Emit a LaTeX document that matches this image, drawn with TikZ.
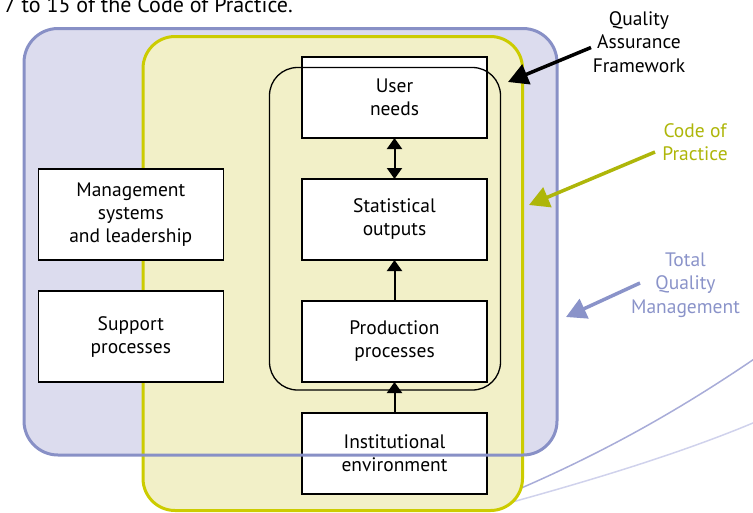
\documentclass[tikz,border=0pt]{standalone}
\usepackage{fontspec}
\setmainfont{PT Sans}
\usetikzlibrary{arrows.meta}

\definecolor{tqmfill}{RGB}{220,220,238}
\definecolor{tqmline}{RGB}{136,144,198}
\definecolor{copfill}{RGB}{242,240,200}
\definecolor{copline}{RGB}{204,204,0}
\definecolor{coplabel}{RGB}{174,182,10}
\definecolor{tqmlabel}{RGB}{138,147,201}
\definecolor{curveA}{RGB}{168,172,216}
\definecolor{curveB}{RGB}{208,210,236}

\tikzset{
  stagebox/.style={draw=black, fill=white, line width=1.3pt, align=center,
    minimum width=185pt, minimum height=81pt, inner sep=0pt, outer sep=0pt,
    font=\fontsize{19.5}{23}\selectfont},
  sidebox/.style={stagebox, minimum height=91pt},
  flow/.style={line width=2pt, -{Triangle[length=11pt,width=15pt]}},
  twoway/.style={line width=2pt, {Triangle[length=11pt,width=15pt]}-{Triangle[length=11pt,width=15pt]}},
  callout/.style={line width=3.5pt, -{Triangle[length=20pt,width=21pt]}},
  calltext/.style={align=center, inner sep=0pt, font=\fontsize{19.5}{23.5}\selectfont},
}

\begin{document}
\begin{tikzpicture}[x=1pt, y=-1pt]
\useasboundingbox (0,0) rectangle (753,512);

% caption line running off the top edge
\node[anchor=base east, inner sep=0pt, font=\fontsize{22}{26}\selectfont] (caption) at (293,12.7) {7 to 15 of the Code of Practice.};

% Total Quality Management region (fill only; its outline goes on top later)
\fill[tqmfill, rounded corners=34pt] (24,28.5) rectangle (557,455);

% decorative sweeping lines behind the Code of Practice region
\draw[curveA, line width=1.5pt] (505,495) .. controls (600,455) and (680,410) .. (760,355);
\draw[curveB, line width=1.5pt] (505,504) .. controls (600,478) and (690,450) .. (760,420);

% Code of Practice region
\draw[copline, fill=copfill, line width=3pt, rounded corners=32pt] (143,36.5) rectangle (522.5,510.5);

% process boxes
\node[stagebox] (user) at (394.5,97.5) {User\\needs};
\node[stagebox] (stat) at (394.5,219.5) {Statistical\\outputs};
\node[stagebox] (prod) at (394.5,341.5) {Production\\processes};
\node[stagebox] (inst) at (394.5,453.5) {Institutional\\environment};
\node[sidebox] (mgmt) at (130.8,214.6) {Management\\systems\\and leadership};
\node[sidebox] (supp) at (130.8,336.6) {Support\\processes};

% Quality Assurance Framework loop
\draw[black, line width=1.3pt, rounded corners=28pt] (269.5,67.5) rectangle (500.5,390);

% flows between the stages
\draw[twoway] (user.south) -- (stat.north);
\draw[flow] (prod.north) -- (stat.south);
\draw[flow] (inst.north) -- (prod.south);

% outline of the Total Quality Management region
\draw[tqmline, line width=3pt, rounded corners=34pt] (24,28.5) rectangle (557,455);

% callouts
\node[calltext] (qaf) at (639,42) {Quality\\Assurance\\Framework};
\coordinate (qafstart) at (591,47.5);
\coordinate (qaftip) at (508,82);
\draw[callout, black] (qafstart) -- (qaftip);

\node[calltext, text=coplabel] (cop) at (695,142) {Code of\\Practice};
\coordinate (copstart) at (655,152);
\coordinate (coptip) at (529,205);
\draw[callout, coplabel] (copstart) -- (coptip);

\node[calltext, text=tqmlabel] (tqm) at (685.5,285) {Total\\Quality\\Management};
\coordinate (tqmstart) at (640,283);
\coordinate (tqmtip) at (566,317);
\draw[callout, tqmlabel] (tqmstart) -- (tqmtip);
\end{tikzpicture}
\end{document}
